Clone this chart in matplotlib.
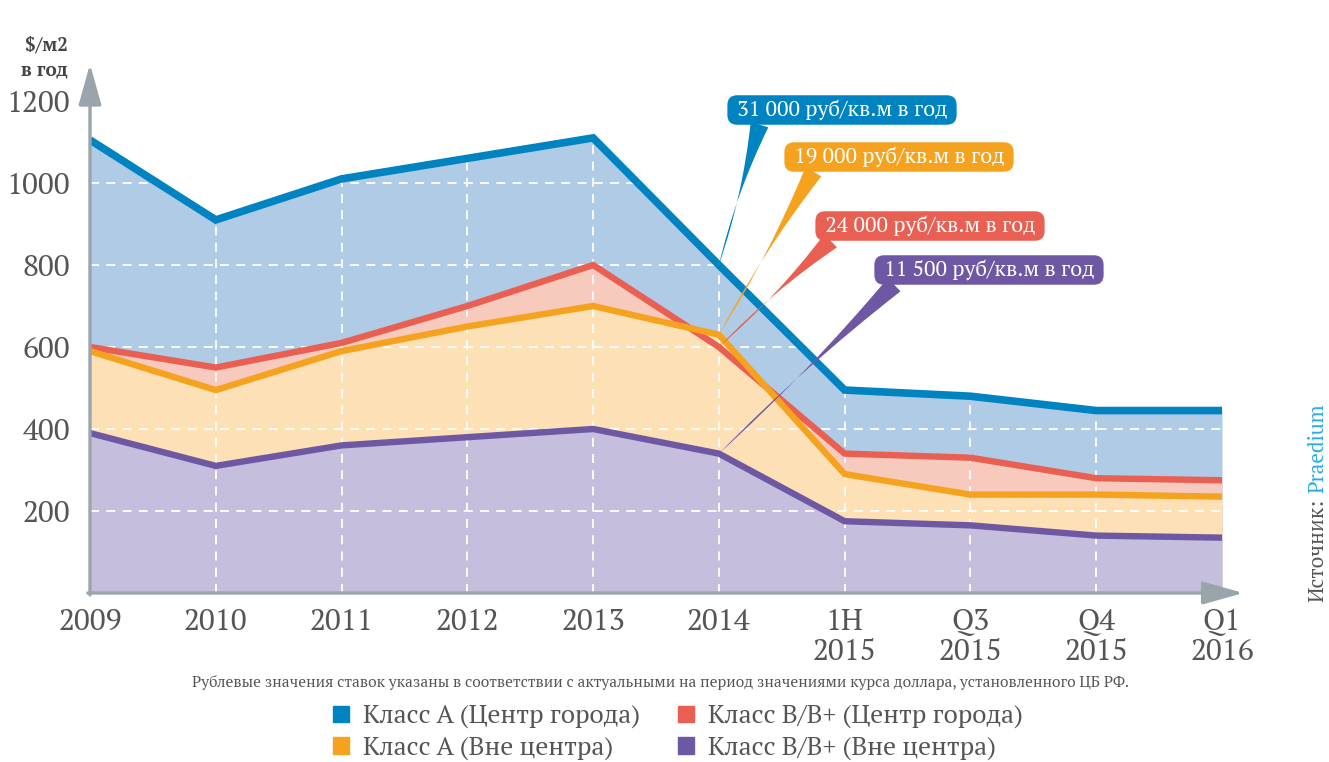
import matplotlib
matplotlib.use("Agg")
import matplotlib.pyplot as plt
from matplotlib.patches import Patch

# ---- data ----
categories = ["2009", "2010", "2011", "2012", "2013", "2014",
              "1H\n2015", "Q3\n2015", "Q4\n2015", "Q1\n2016"]
class_a_center = [1105, 910, 1010, 1060, 1110, 800, 495, 480, 445, 445]
class_b_center = [600, 550, 610, 700, 800, 600, 340, 330, 280, 275]
class_a_outside = [590, 495, 590, 650, 700, 630, 290, 240, 240, 235]
class_b_outside = [390, 310, 360, 380, 400, 340, 175, 165, 140, 135]
series_labels = ["Класс А (Центр города)", "Класс B/B+ (Центр города)",
                 "Класс А (Вне центра)", "Класс B/B+ (Вне центра)"]
callout_texts = ["31 000 руб/кв.м в год", "19 000 руб/кв.м в год",
                 "24 000 руб/кв.м в год", "11 500 руб/кв.м в год"]
y_ticks = [200, 400, 600, 800, 1000, 1200]

FONT = ["PT Serif", "DejaVu Serif"]
plt.rcParams["font.family"] = FONT

line_colors = ["#0083c1", "#e95f52", "#f5a31f", "#6f58a3"]
fill_colors = ["#b0cbe5", "#f8c9bd", "#fde0b5", "#c5bedd"]
txt = "#555555"
axis_c = "#9aa5ab"

series = [class_a_center, class_b_center, class_a_outside, class_b_outside]
x = list(range(len(categories)))

fig = plt.figure(figsize=(13.29, 7.62), dpi=100)
ax = fig.add_axes([90 / 1329, 1 - 593 / 762, 1132 / 1329, 492 / 762])
ax.set_xlim(0, len(categories) - 1)
ax.set_ylim(0, 1200)

for vals, fc in zip(series, fill_colors):
    ax.fill_between(x, 0, vals, color=fc, lw=0, zorder=1)

for yv in y_ticks[:-1]:
    ax.axhline(yv, color="white", lw=1.3, ls=(0, (5, 4)), zorder=2)
for xv in x[1:-1]:
    ax.axvline(xv, color="white", lw=1.3, ls=(0, (5, 4)), zorder=2)

lws = [5.5, 4.6, 4.6, 4.6]
for vals, lc, lw in zip(series, line_colors, lws):
    ax.plot(x, vals, color=lc, lw=lw, solid_joinstyle="miter",
            solid_capstyle="butt", zorder=3)

for s in ax.spines.values():
    s.set_visible(False)
ax.set_yticks(y_ticks)
ax.set_yticklabels([str(v) for v in y_ticks])
ax.set_xticks(x)
ax.set_xticklabels(categories, linespacing=1.1)
ax.tick_params(length=0, labelsize=21.5, labelcolor=txt)
ax.tick_params(axis="y", pad=14)
ax.tick_params(axis="x", pad=11)

# axis arrows
arrow_kw = dict(arrowstyle="-|>,head_width=0.35,head_length=1.25",
                color=axis_c, lw=2.4, shrinkA=0, shrinkB=0, mutation_scale=20)
ax.annotate("", xy=(0, 1.075), xycoords="axes fraction", xytext=(0, -0.004),
            textcoords="axes fraction", arrowprops=arrow_kw, zorder=5,
            annotation_clip=False)
ax.annotate("", xy=(1.019, 0), xycoords="axes fraction", xytext=(-0.002, 0),
            textcoords="axes fraction", arrowprops=arrow_kw, zorder=5,
            annotation_clip=False)

# callouts at 2014
idx = categories.index("2014")
callout_pos = [(842, 110), (899, 157), (930, 226), (989, 270)]
relx = [0.14, 0.14, 0.1, 0.12]
targets = [class_a_center, class_a_outside, class_b_center, class_b_outside]
c_colors = [line_colors[0], line_colors[2], line_colors[1], line_colors[3]]
for t, (px, py), rx, vals, cc in zip(callout_texts, callout_pos, relx, targets, c_colors):
    ax.annotate(" " + t + " ", xy=(idx, vals[idx]), xycoords="data",
                xytext=(px / 1329, 1 - py / 762), textcoords="figure fraction",
                ha="center", va="center", color="white", fontsize=15.5,
                bbox=dict(boxstyle="round,pad=0.2,rounding_size=0.45", fc=cc, ec="none"),
                arrowprops=dict(arrowstyle="wedge,tail_width=0.85,shrink_factor=0.05",
                                fc=cc, ec="none", shrinkA=0, shrinkB=0,
                                relpos=(rx, 0.3)),
                zorder=6, annotation_clip=False)

# y-axis unit
fig.text(68 / 1329, 1 - 57 / 762, "$/м2\nв год", ha="right", va="center",
         fontsize=13.5, color="#444444", linespacing=1.4, parse_math=False,
         fontweight="bold")

# note
fig.text(0.497, 1 - 682 / 762,
         "Рублевые значения ставок указаны в соответствии с актуальными на период значениями курса доллара, установленного ЦБ РФ.",
         ha="center", va="center", fontsize=11.2, color=txt)

# source
src = fig.text(1317 / 1329, 1 - 602 / 762, "Источник:", rotation=90, ha="center",
               va="bottom", fontsize=15, color=txt)
fig.add_artist(plt.matplotlib.text.Annotation(
    "Praedium", xy=(0.5, 1.0), xycoords=src, xytext=(0, 4),
    textcoords="offset points", rotation=90, ha="center", va="bottom",
    fontsize=15, color="#29abe2"))

# legend
handles = [Patch(color=line_colors[0]), Patch(color=line_colors[2]),
           Patch(color=line_colors[1]), Patch(color=line_colors[3])]
labels = [series_labels[0], series_labels[2], series_labels[1], series_labels[3]]
fig.legend(handles, labels, ncol=2, loc="center",
           bbox_to_anchor=(678 / 1329, 1 - 732 / 762), frameon=False, fontsize=18.5,
           labelcolor=txt, handlelength=0.62, handleheight=0.62,
           handletextpad=0.55, columnspacing=1.5, labelspacing=0.29,
           borderpad=0, borderaxespad=0)

fig.savefig("out.png", dpi=100)
